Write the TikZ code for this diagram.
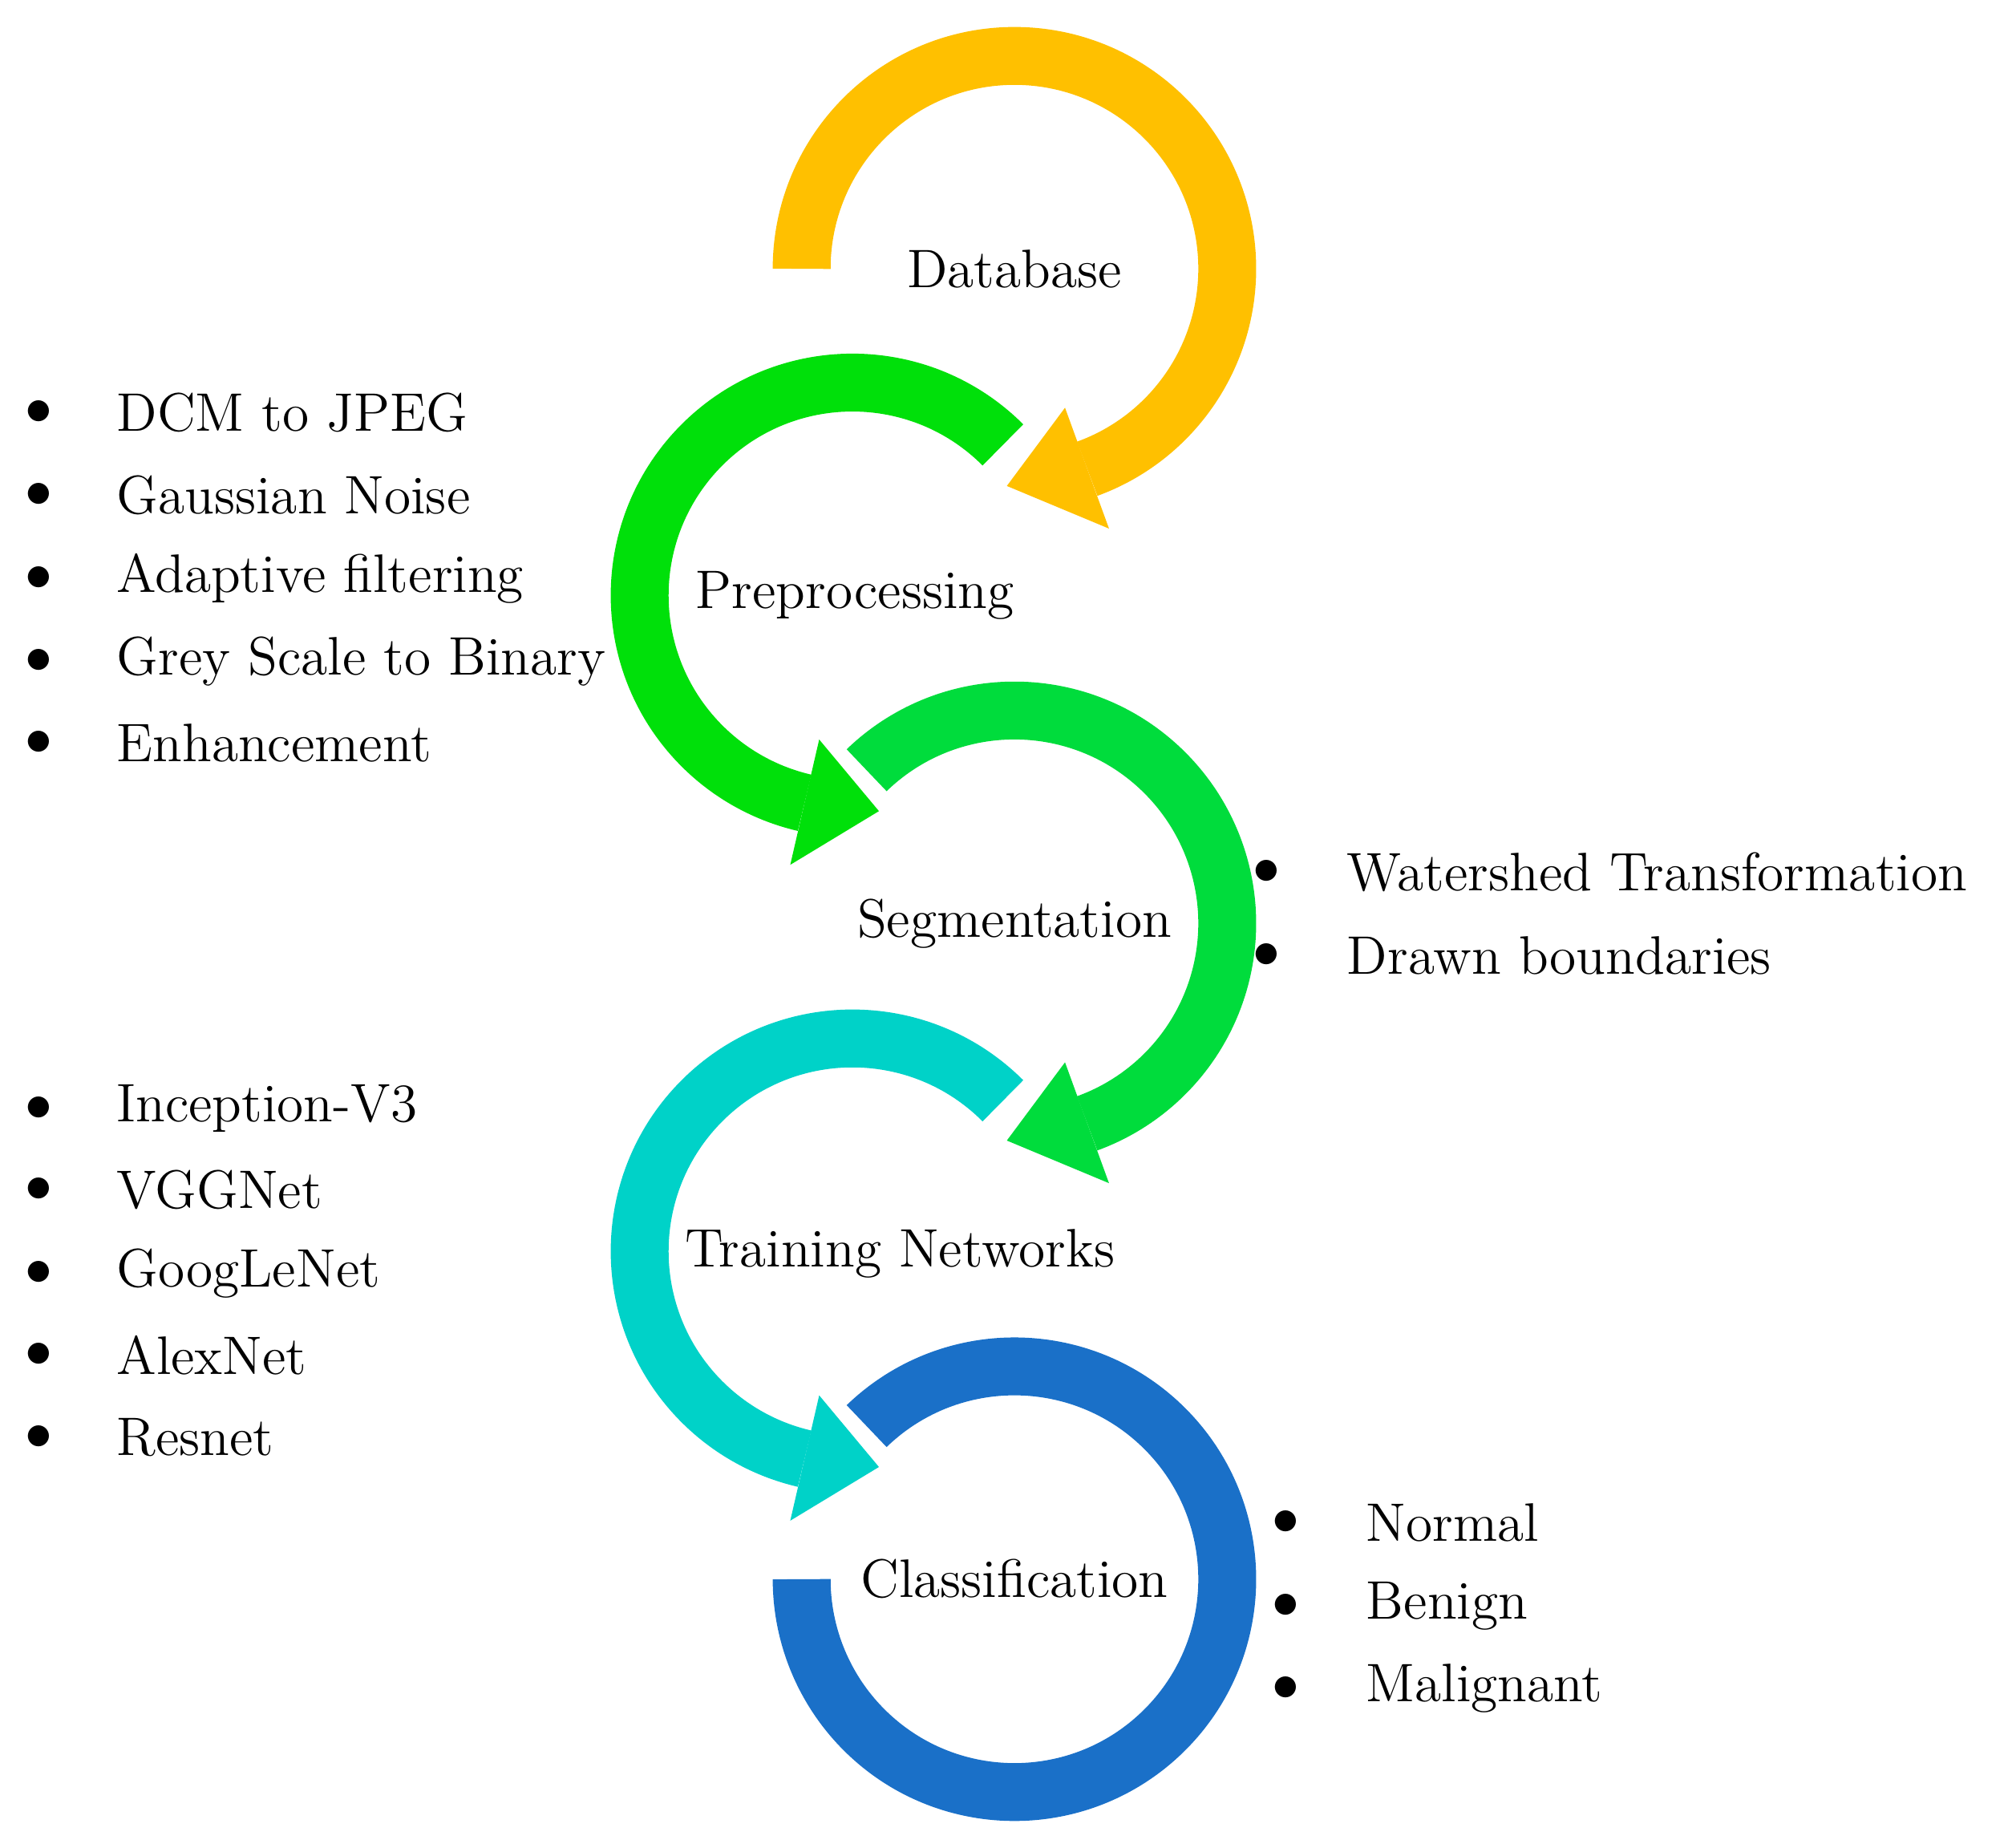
\documentclass[tikz,border=0pt]{standalone}
\usetikzlibrary{calc}
\definecolor{cdb}{HTML}{FFC000}
\definecolor{cpp}{HTML}{00E00A}
\definecolor{csg}{HTML}{00DC3C}
\definecolor{ctr}{HTML}{00D2C8}
\definecolor{ccl}{HTML}{1A70C8}
\begin{document}
\begin{tikzpicture}[
  ring/.style={line width=0.45cm},
  lbl/.style={font=\fontsize{12}{14}\selectfont},
  item/.style={font=\fontsize{12}{14}\selectfont, anchor=west, inner sep=0pt},
  bul/.style={font=\fontsize{12}{14}\selectfont, inner sep=0pt}]
\useasboundingbox (0,0) rectangle (15.68,14.37);
\coordinate (db) at (7.89,12.28);
\coordinate (pp) at (6.63,9.74);
\coordinate (sg) at (7.89,7.19);
\coordinate (tr) at (6.63,4.64);
\coordinate (cl) at (7.89,2.09);
% Database
\draw[ring,cdb] ($(db)+(180:1.655)$) arc[start angle=180,end angle=-70,radius=1.655];
\fill[cdb] ($(db)+(-70:1.15)$) -- ($(db)+(-70:2.15)$) -- ($(db)+(-92:1.69)$) -- cycle;
% Preprocessing
\draw[ring,cpp] ($(pp)+(45:1.655)$) arc[start angle=45,end angle=257,radius=1.655];
\fill[cpp] ($(pp)+(257:1.15)$) -- ($(pp)+(257:2.15)$) -- ($(pp)+(277:1.69)$) -- cycle;
% Segmentation
\draw[ring,csg] ($(sg)+(134:1.655)$) arc[start angle=134,end angle=-70,radius=1.655];
\fill[csg] ($(sg)+(-70:1.15)$) -- ($(sg)+(-70:2.15)$) -- ($(sg)+(-92:1.69)$) -- cycle;
% Training
\draw[ring,ctr] ($(tr)+(45:1.655)$) arc[start angle=45,end angle=257,radius=1.655];
\fill[ctr] ($(tr)+(257:1.15)$) -- ($(tr)+(257:2.15)$) -- ($(tr)+(277:1.69)$) -- cycle;
% Classification
\draw[ring,ccl] ($(cl)+(134:1.655)$) arc[start angle=134,end angle=-180,radius=1.655];
% labels
\node[lbl] (ldb) at (7.89,12.28) {Database};
\node[lbl] (lpp) at (6.65,9.74) {Preprocessing};
\node[lbl] (lsg) at (7.89,7.19) {Segmentation};
\node[lbl] (ltr) at (7.00,4.62) {Training Networks};
\node[lbl] (lcl) at (7.89,2.09) {Classification};
% left list 1
\node[bul] (b1) at (0.30,11.16) {$\bullet$}; \node[item] (t1) at (0.90,11.16) {DCM to JPEG};
\node[bul] (b2) at (0.30,10.52) {$\bullet$}; \node[item] (t2) at (0.90,10.52) {Gaussian Noise};
\node[bul] (b3) at (0.30,9.87) {$\bullet$}; \node[item] (t3) at (0.90,9.87) {Adaptive filtering};
\node[bul] (b4) at (0.30,9.23) {$\bullet$}; \node[item] (t4) at (0.90,9.23) {Grey Scale to Binary};
\node[bul] (b5) at (0.30,8.59) {$\bullet$}; \node[item] (t5) at (0.90,8.59) {Enhancement};
% right list seg
\node[bul] (b6) at (9.85,7.59) {$\bullet$}; \node[item] (t6) at (10.47,7.59) {Watershed Transformation};
\node[bul] (b7) at (9.85,6.94) {$\bullet$}; \node[item] (t7) at (10.47,6.94) {Drawn boundaries};
% left list 2
\node[bul] (b8) at (0.30,5.75) {$\bullet$}; \node[item] (t8) at (0.90,5.75) {Inception-V3};
\node[bul] (b9) at (0.30,5.12) {$\bullet$}; \node[item] (t9) at (0.90,5.12) {VGGNet};
\node[bul] (b10) at (0.30,4.47) {$\bullet$}; \node[item] (t10) at (0.90,4.47) {GoogLeNet};
\node[bul] (b11) at (0.30,3.83) {$\bullet$}; \node[item] (t11) at (0.90,3.83) {AlexNet};
\node[bul] (b12) at (0.30,3.19) {$\bullet$}; \node[item] (t12) at (0.90,3.19) {Resnet};
% right list cl
\node[bul] (b13) at (10.00,2.53) {$\bullet$}; \node[item] (t13) at (10.62,2.53) {Normal};
\node[bul] (b14) at (10.00,1.88) {$\bullet$}; \node[item] (t14) at (10.62,1.88) {Benign};
\node[bul] (b15) at (10.00,1.24) {$\bullet$}; \node[item] (t15) at (10.62,1.24) {Malignant};
\end{tikzpicture}
\end{document}
